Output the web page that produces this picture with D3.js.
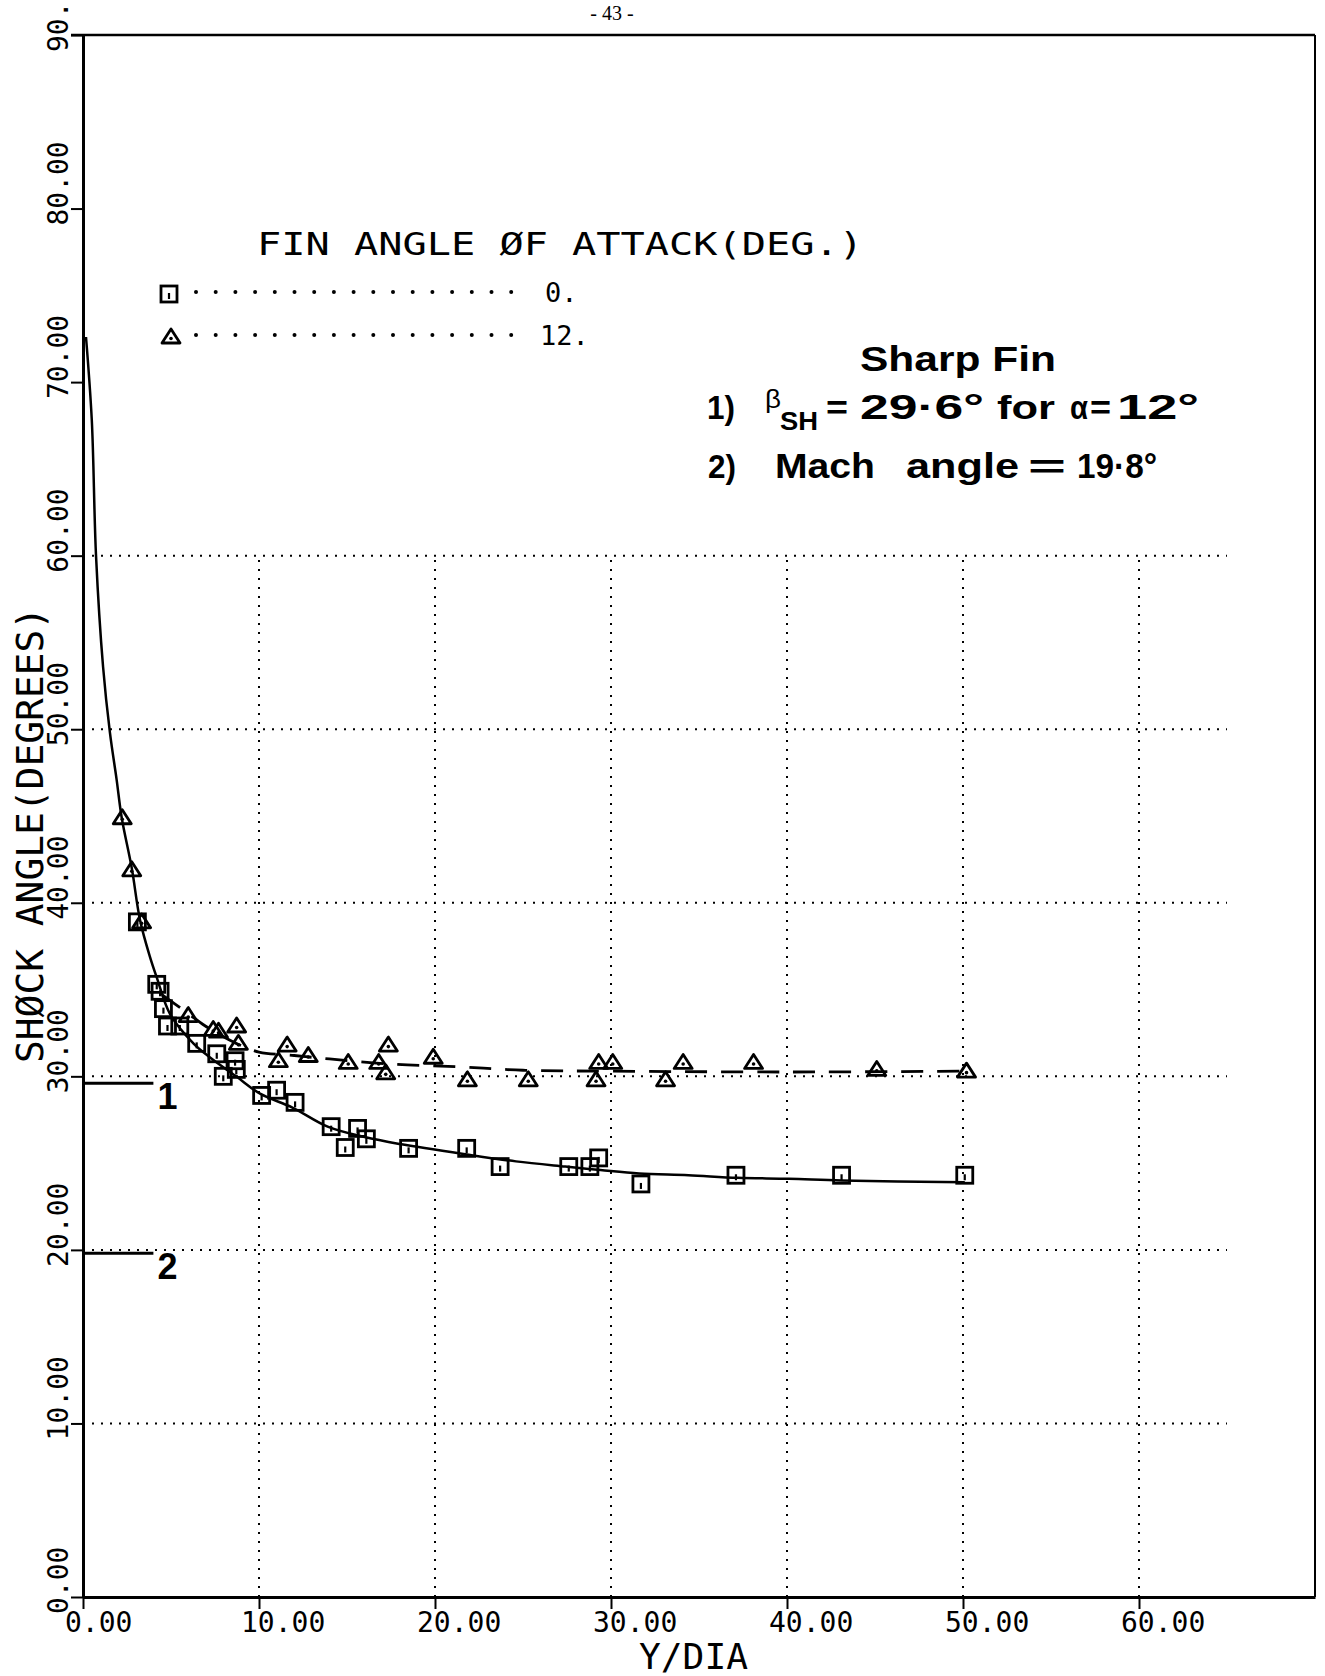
<!DOCTYPE html>
<html><head><meta charset="utf-8">
<script src="https://cdn.jsdelivr.net/npm/d3@7"></script>
<style>body{margin:0;background:#fff}</style>
</head><body><svg id="c" width="1325" height="1676"></svg>
<script>
// ---------- data ----------
const xTicks = [0, 10, 20, 30, 40, 50, 60];
const xTickLabels = ["0.00", "10.00", "20.00", "30.00", "40.00", "50.00", "60.00"];
const yTicks = [0, 10, 20, 30, 40, 50, 60, 70, 80, 90];
const yTickLabels = ["0.00", "10.00", "20.00", "30.00", "40.00", "50.00", "60.00", "70.00", "80.00", "90."];
const gridX = [10, 20, 30, 40, 50, 60];
const gridY = [10, 20, 30, 40, 50, 60];

// fin angle of attack 0 deg (squares)
const alpha0X = [3.09, 4.19, 4.38, 4.57, 4.8, 5.5, 6.46, 7.6, 7.97, 8.64, 8.71, 10.15, 11.0, 12.05, 14.1, 14.9, 15.6, 16.1, 18.5, 21.8, 23.7, 27.6, 28.8, 29.3, 31.7, 37.1, 43.1, 50.1];
const alpha0Y = [38.9, 35.3, 34.9, 33.9, 32.9, 32.9, 31.9, 31.3, 30.0, 30.9, 30.4, 28.9, 29.2, 28.5, 27.1, 25.9, 27.0, 26.4, 25.85, 25.85, 24.8, 24.8, 24.8, 25.3, 23.8, 24.3, 24.3, 24.3];

// fin angle of attack 12 deg (triangles)
const alpha12X = [2.23, 2.77, 3.33, 5.98, 7.4, 7.7, 8.73, 8.83, 11.1, 11.6, 12.8, 15.07, 16.8, 17.2, 17.35, 19.9, 21.84, 25.3, 29.15, 29.3, 30.1, 33.1, 34.1, 38.1, 45.1, 50.2];
const alpha12Y = [44.9, 41.9, 38.9, 33.5, 32.7, 32.6, 32.9, 31.9, 30.9, 31.8, 31.2, 30.8, 30.8, 30.2, 31.8, 31.1, 29.8, 29.8, 29.8, 30.8, 30.8, 29.8, 30.8, 30.8, 30.4, 30.3];

// faired curves
const fitSolidX = [0.17, 0.5, 0.74, 1.14, 1.53, 1.91, 2.2, 2.77, 3.24, 3.8, 4.19, 4.94, 6.27, 7.2, 8.7, 10.06, 11.9, 13.9, 16.0, 18.0, 21.8, 24.6, 27.4, 29.4, 31.6, 34.4, 37.2, 40.1, 43.1, 50.1];
const fitSolidY = [72.6, 67.8, 60.0, 53.6, 49.8, 47.1, 44.9, 42.0, 39.0, 36.9, 35.7, 33.6, 31.9, 31.1, 30.0, 29.0, 28.2, 27.1, 26.5, 26.1, 25.5, 25.1, 24.8, 24.6, 24.4, 24.3, 24.15, 24.1, 24.0, 23.9];
const fitDashedX = [4.5, 6.0, 6.8, 7.6, 8.7, 10.0, 12.0, 14.0, 17.6, 21.4, 25.0, 30.0, 40.0, 50.2];
const fitDashedY = [34.7, 33.6, 33.0, 32.5, 31.9, 31.4, 31.2, 31.0, 30.7, 30.55, 30.35, 30.3, 30.25, 30.3];

// reference angles
const refValues = [29.6, 19.8];
const refLabels = ["1", "2"];

// legend
const legendLabels = ["0.", "12."];

// ---------- drawing ----------
const svg = d3.select("#c");
svg.append("rect").attr("width", 1325).attr("height", 1676).attr("fill", "#fff");

const x = d3.scaleLinear().domain([0, 70]).range([83, 1315]);
const y = d3.scaleLinear().domain([0, 90]).range([1597, 35]);
const MONO = "'DejaVu Sans Mono', 'Liberation Mono', monospace";
const SANS = "'Liberation Sans', Arial, sans-serif";

// page header
svg.append("text").attr("x", 612).attr("y", 20).attr("text-anchor", "middle")
  .attr("font-family", "'Liberation Serif', serif").attr("font-size", 20).text("- 43 -");

// grid (dotted)
const grid = svg.append("g").attr("stroke", "#000").attr("stroke-width", 2)
  .attr("stroke-dasharray", "2,7").attr("stroke-linecap", "butt");
grid.selectAll("line.gx").data(gridX).join("line").attr("class", "gx")
  .attr("x1", d => x(d)).attr("x2", d => x(d)).attr("y1", y(0)).attr("y2", y(60));
grid.selectAll("line.gy").data(gridY).join("line").attr("class", "gy")
  .attr("x1", x(0)).attr("x2", x(65)).attr("y1", d => y(d)).attr("y2", d => y(d));

// axes
const gy = svg.append("g").attr("transform", `translate(${x(0)},0)`)
  .call(d3.axisLeft(y).tickValues(yTicks).tickSize(12).tickSizeOuter(0).tickFormat(""));
const gx = svg.append("g").attr("transform", `translate(0,${y(0)})`)
  .call(d3.axisBottom(x).tickValues(xTicks).tickSize(12).tickSizeOuter(0).tickFormat(""));
[gx, gy].forEach(g => {
  g.select(".domain").attr("stroke", "#000").attr("stroke-width", 3);
  g.selectAll(".tick line").attr("stroke", "#000").attr("stroke-width", 2);
});
// frame top / right
svg.append("line").attr("x1", x(0) - 12).attr("x2", x(70)).attr("y1", y(90)).attr("y2", y(90))
  .attr("stroke", "#000").attr("stroke-width", 2.5);
svg.append("line").attr("x1", x(70)).attr("x2", x(70)).attr("y1", y(90)).attr("y2", y(0))
  .attr("stroke", "#000").attr("stroke-width", 2);

// tick labels
svg.append("g").selectAll("text").data(xTicks).join("text")
  .attr("x", d => x(d) - 18).attr("y", 1632)
  .attr("font-family", MONO).attr("font-size", 28)
  .text((d, i) => xTickLabels[i]);
svg.append("g").selectAll("text").data(yTicks).join("text")
  .attr("transform", d => `translate(68,${y(d) + 17}) rotate(-90)`)
  .attr("font-family", MONO).attr("font-size", 28)
  .text((d, i) => yTickLabels[i]);

// axis titles
svg.append("text").attr("x", 639).attr("y", 1669)
  .attr("font-family", MONO).attr("font-size", 35)
  .attr("textLength", 109).attr("lengthAdjust", "spacingAndGlyphs").text("Y/DIA");
svg.append("text").attr("transform", "translate(43,1063) rotate(-90)")
  .attr("font-family", MONO).attr("font-size", 38)
  .attr("textLength", 456).attr("lengthAdjust", "spacingAndGlyphs").text("SHØCK ANGLE(DEGREES)");

// reference lines
refValues.forEach((v, i) => {
  svg.append("line").attr("x1", x(0)).attr("x2", x(4.0)).attr("y1", y(v)).attr("y2", y(v))
    .attr("stroke", "#000").attr("stroke-width", 3);
  svg.append("text").attr("x", x(4.0) + 4).attr("y", y(v) + 26)
    .attr("font-family", SANS).attr("font-weight", "bold").attr("font-size", 36)
    .text(refLabels[i]);
});

// curves
const zip = (a, b) => a.map((v, i) => [v, b[i]]);
const line = d3.line().x(d => x(d[0])).y(d => y(d[1])).curve(d3.curveCatmullRom.alpha(0.5));
svg.append("path").attr("d", line(zip(fitSolidX, fitSolidY)))
  .attr("fill", "none").attr("stroke", "#000").attr("stroke-width", 2.5);
svg.append("path").attr("d", line(zip(fitDashedX, fitDashedY)))
  .attr("fill", "none").attr("stroke", "#000").attr("stroke-width", 2.8)
  .attr("stroke-dasharray", "22,14");

// markers
function square(g, cx, cy) {
  g.append("rect").attr("x", cx - 8).attr("y", cy - 8).attr("width", 16).attr("height", 16)
    .attr("fill", "none").attr("stroke", "#000").attr("stroke-width", 2.8);
  g.append("line").attr("x1", cx).attr("x2", cx).attr("y1", cy - 1).attr("y2", cy + 5)
    .attr("stroke", "#000").attr("stroke-width", 2.2);
}
function triangle(g, cx, cy) {
  g.append("path").attr("d", `M${cx - 9},${cy + 6}L${cx + 9},${cy + 6}L${cx},${cy - 8}Z`)
    .attr("fill", "none").attr("stroke", "#000").attr("stroke-width", 2.8).attr("stroke-linejoin", "round");
  g.append("circle").attr("cx", cx).attr("cy", cy + 1.5).attr("r", 1.8).attr("fill", "#000");
}
const gm = svg.append("g");
zip(alpha0X, alpha0Y).forEach(d => square(gm, x(d[0]), y(d[1])));
zip(alpha12X, alpha12Y).forEach(d => triangle(gm, x(d[0]), y(d[1])));

// legend
svg.append("text").attr("x", 257).attr("y", 255)
  .attr("font-family", MONO).attr("font-size", 32)
  .attr("textLength", 606).attr("lengthAdjust", "spacingAndGlyphs").text("FIN ANGLE ØF ATTACK(DEG.)");
const legendY = [294, 337];
const dotsX = d3.range(17).map(i => 196 + i * 19.7);
legendLabels.forEach((lab, i) => {
  const ly = legendY[i];
  if (i === 0) square(svg, 169, ly); else triangle(svg, 171, ly);
  svg.append("g").selectAll("circle").data(dotsX).join("circle")
    .attr("cx", d => d).attr("cy", ly - 2).attr("r", 2).attr("fill", "#000");
  svg.append("text").attr("x", i === 0 ? 545 : 540).attr("y", ly + 8)
    .attr("font-family", MONO).attr("font-size", 27).text(lab);
});

// annotation
const ann = svg.append("g").attr("font-family", SANS).attr("font-weight", "bold").attr("fill", "#000");
function put(t, xx, yy, fs, tl, weight) {
  const e = ann.append("text").attr("x", xx).attr("y", yy).attr("font-size", fs).text(t);
  if (tl) e.attr("textLength", tl).attr("lengthAdjust", "spacingAndGlyphs");
  if (weight) e.attr("font-weight", weight);
  return e;
}
put("Sharp Fin", 860, 371, 35, 196);
put("1)", 707, 419, 34, 28);
put("β", 765, 408, 26, 16, "normal");
put("SH", 780, 430, 26, 38);
put("=", 826, 419, 34, 22);
put("29·6°", 860, 419, 35, 124);
put("for", 997, 419, 34, 58);
put("α", 1070, 419, 34, 18);
put("=", 1090, 419, 34, 21);
put("12°", 1117, 419, 35, 82);
put("2)", 708, 478, 34, 28);
put("Mach", 775, 478, 35, 100);
put("angle", 906, 478, 35, 113);
put("=", 1028, 478, 34, 38);
put("19·8°", 1077, 478, 35, 80);
</script></body></html>
